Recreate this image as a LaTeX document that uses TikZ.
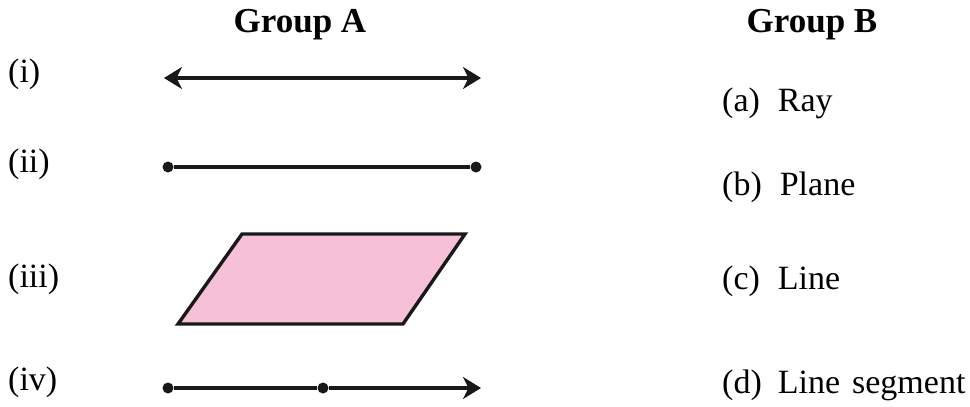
\documentclass[tikz,border=0pt]{standalone}
\usepackage{fontspec}
\setmainfont{Liberation Serif}
\usetikzlibrary{arrows.meta}
\definecolor{planepink}{HTML}{F5C0D8}
\tikzset{
  lbl/.style={anchor=west, inner sep=0pt, font=\fontsize{34}{38}\selectfont, text height=0.7em, text depth=0.22em},
  title/.style={anchor=center, inner sep=0pt, font=\fontsize{35}{40}\selectfont\bfseries},
  geo/.style={line width=3.4pt, draw=black!90},
  myhead/.tip={Stealth[length=18pt,width=22pt,inset=5.5pt]},
  pt/.style={circle, fill=black!90, inner sep=0pt, minimum size=11pt}
}
\begin{document}
\begin{tikzpicture}[x=1pt,y=-1pt]
\useasboundingbox (0,0) rectangle (970,407);
% titles
\node[title] (ga) at (300,25) {Group A};
\node[title] (gb) at (812,25) {Group B};
% left labels
\node[lbl] (li) at (8,80) {(i)};
\node[lbl] (lii) at (8,170) {(ii)};
\node[lbl] (liii) at (8,285) {(iii)};
\node[lbl] (liv) at (8,388) {(iv)};
% right labels
\node[lbl] (ra) at (722,109) {(a)\hspace{18pt}Ray};
\node[lbl] (rb) at (722,193) {(b)\hspace{18pt}Plane};
\node[lbl] (rc) at (722,287) {(c)\hspace{18pt}Line};
\node[lbl] (rd) at (722,391) {(d)\hspace{16pt}Line\hspace{12pt}segment};
% (i) line
\coordinate (l1) at (164,78);
\coordinate (l2) at (481,78);
\draw[geo, myhead-myhead] (l1) -- (l2);
% (ii) segment
\node[pt] (s1) at (168,167) {};
\node[pt] (s2) at (476,167) {};
\draw[geo] (s1) -- (s2);
% (iii) plane
\coordinate (p1) at (242,234);
\coordinate (p2) at (465,234);
\coordinate (p3) at (403,324);
\coordinate (p4) at (178,324);
\draw[geo, fill=planepink, line join=miter] (p1) -- (p2) -- (p3) -- (p4) -- cycle;
% (iv) ray
\node[pt] (r1) at (168,388) {};
\node[pt] (r2) at (323,388) {};
\coordinate (r3) at (481,388);
\draw[geo] (r1) -- (r2);
\draw[geo, -myhead] (r2) -- (r3);
\end{tikzpicture}
\end{document}
